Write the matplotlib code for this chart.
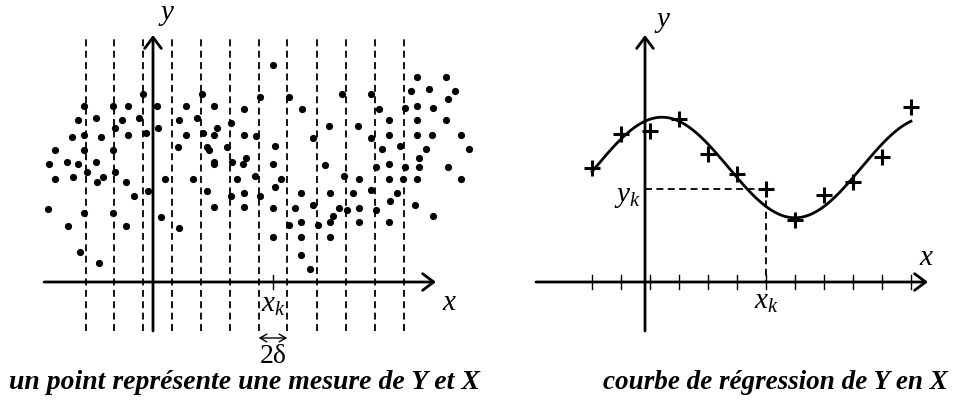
import matplotlib
matplotlib.use("Agg")
import matplotlib.pyplot as plt
import numpy as np

plt.rcParams["font.family"] = ["Liberation Serif", "DejaVu Serif"]
plt.rcParams["mathtext.fontset"] = "custom"
plt.rcParams["mathtext.it"] = "Liberation Serif:italic"
plt.rcParams["mathtext.rm"] = "Liberation Serif"
plt.rcParams["lines.scale_dashes"] = False

# ---------------- data ----------------
# Left panel: scattered measurements (x, y) of the pair (X, Y)
scatter_x = [-10, -69, -40, -25, 4, 33, 49, 61, 91, -75, -57, -31, -14, 26, 44, 78,
             64, -38, 5, -81, -69, -52, -25, -7, 33, 50, 61, 91, -98, -69, -40, 25,
             54, 56, 74, -104, -86, -75, -57, 61, 61, 79, 93, 90, -98, -80, -66, -50,
             -56, -38, -27, 12, 40, 84, -5, 54, -19, 78, 91, -105, -69, -40, 61, 91,
             -85, -27, 8, 26, -73, -54,
             120, 264, 293, 276, 302, 258, 107, 136, 189, 218, 295, 149, 226, 252, 264,
             280, 236, 264, 293, 176, 205, 103, 160, 218, 236, 264, 279, 308, 122, 229,
             247, 273, 266, 316, 120, 172, 223, 236, 252, 266, 295, 102, 128, 122, 191,
             206, 236, 250, 264, 308, 107, 148, 177, 200, 218, 244, 120, 142, 160, 186,
             194, 206, 223, 237, 262, 280, 136, 148, 165, 180, 177, 206, 236, 120, 148,
             177, 148, 157]
scatter_y = [188, 176, 176, 176, 176, 176, 188, 176, 173, 162, 164, 162, 164, 162, 164, 159,
             154, 154, 154, 145, 147, 145, 147, 149, 147, 149, 147, 147, 132, 132, 132, 135,
             135, 132, 135, 118, 120, 118, 120, 120, 118, 120, 124, 118, 103, 105, 110, 105,
             100, 110, 100, 103, 103, 103, 91, 91, 86, 86, 89, 73, 69, 69, 75, 75,
             56, 56, 65, 54, 30, 19,
             217, 205, 205, 193, 191, 191, 185, 185, 188, 188, 183, 173, 173, 174, 176,
             174, 162, 162, 162, 156, 156, 146, 144, 144, 147, 147, 147, 147, 136, 133,
             136, 133, 124, 133, 118, 117, 115, 118, 115, 115, 115, 106, 103, 95, 106,
             103, 103, 103, 103, 103, 86, 89, 89, 89, 92, 89, 74, 74, 77, 74,
             72, 74, 72, 81, 77, 66, 57, 60, 57, 66, 60, 60, 60, 45, 45,
             45, 27, 13]
# class boundaries x_k - delta / x_k + delta
strip_edges = [-67, -39, -10, 19, 48, 77, 106, 134, 164, 193, 222, 251]
left_xk = 120
delta = 14.3

# Right panel: conditional means of Y at each x_k
grid_x = [-53, -24, 5, 34, 63, 92, 121, 150, 179, 208, 237, 266]
mean_y = [114, 148, 151, 163, 128, 108, 93, 62, 87, 100, 125, 175]
k_index = 6

# regression curve (cosine model): peak position, period, level, amplitude
curve_peak_x = 17
curve_period = 266
curve_level = 114.5
curve_amp = 50.3

# ---------------- drawing ----------------
fig = plt.figure(figsize=(9.59, 4.10), dpi=100)


def panel(ox, oy):
    ax = fig.add_axes([0, 0, 1, 1])
    ax.set_xlim(-ox, 959 - ox)
    ax.set_ylim(oy - 410, oy)
    ax.axis("off")
    ax.patch.set_alpha(0)
    return ax


def axes_arrows(ax):
    style = "->,head_length=0.4,head_width=0.3"
    ax.annotate("", xy=(283, 0), xytext=(-109, 0),
                arrowprops=dict(arrowstyle=style, lw=2.0, color="k",
                                shrinkA=0, shrinkB=0, mutation_scale=20))
    ax.annotate("", xy=(0, 247), xytext=(0, -49),
                arrowprops=dict(arrowstyle=style, lw=2.0, color="k",
                                shrinkA=0, shrinkB=0, mutation_scale=20))


LBL = 21

# left panel
axL = panel(153, 283)
for xe in strip_edges:
    axL.plot([xe, xe], [-49, 243], color="k", lw=1.3, dashes=(5, 3.2))
axes_arrows(axL)
axL.scatter(scatter_x, scatter_y, s=27, c="k", linewidths=0, zorder=3)
axL.plot([left_xk, left_xk], [-7, 7], color="k", lw=1.0)
axL.text(14, 268, "$y$", fontsize=LBL, ha="center", va="center")
axL.text(297, -20, "$x$", fontsize=LBL, ha="center", va="center")
axL.text(left_xk, -22, "$x_k$", fontsize=LBL, ha="center", va="center")
axL.annotate("", xy=(left_xk + delta, -56), xytext=(left_xk - delta, -56),
             arrowprops=dict(arrowstyle="<->,head_length=0.35,head_width=0.2",
                             lw=1.0, color="k", shrinkA=0, shrinkB=0,
                             mutation_scale=14))
axL.text(left_xk, -74, "2δ", fontsize=20, ha="center", va="center")
axL.text(91, -100, "un point représente une mesure de Y et X", fontsize=20,
         style="italic", weight="bold", ha="center", va="center")

# right panel
axR = panel(645, 283)
axes_arrows(axR)
for gx in grid_x:
    axR.plot([gx, gx], [-7, 7], color="k", lw=1.0)
cx = np.linspace(grid_x[0], grid_x[-1], 300)
cy = curve_level + curve_amp * np.cos(2 * np.pi * (cx - curve_peak_x) / curve_period)
axR.plot(cx, cy, color="k", lw=2.0)
axR.plot(grid_x, mean_y, "+", color="k", ms=11, mew=2.2, zorder=4)
xk, yk = grid_x[k_index], mean_y[k_index]
axR.plot([0, xk], [yk, yk], color="k", lw=1.3, dashes=(5, 3.2))
axR.plot([xk, xk], [yk, 0], color="k", lw=1.3, dashes=(5, 3.2))
axR.text(18, 261, "$y$", fontsize=LBL, ha="center", va="center")
axR.text(-4, 86, "$y_k$", fontsize=LBL, ha="right", va="center")
axR.text(282, 25, "$x$", fontsize=LBL, ha="center", va="center")
axR.text(xk, -19, "$x_k$", fontsize=LBL, ha="center", va="center")
axR.text(130, -100, "courbe de régression de Y en X", fontsize=19.5,
         style="italic", weight="bold", ha="center", va="center")

fig.savefig("out.png", dpi=100, facecolor="white")
